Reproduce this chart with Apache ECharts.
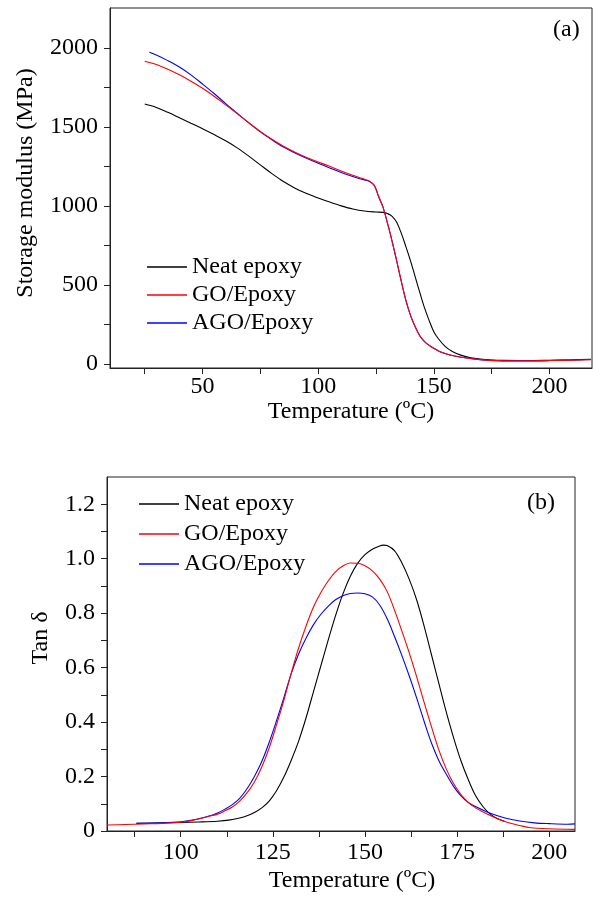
<!DOCTYPE html>
<html>
<head>
<meta charset="utf-8">
<script src="https://cdn.jsdelivr.net/npm/echarts@6/dist/echarts.min.js"></script>
<style>html,body{margin:0;padding:0;background:#fff;}#c{width:593px;height:903px;}</style>
</head>
<body>
<div id="c"></div>
<script>
// ---- Panel (a): storage modulus ----
var seriesNames = ['Neat epoxy', 'GO/Epoxy', 'AGO/Epoxy'];
var aNeatT = [25,30,35,40,45,50,55,60,65,70,75,80,85,90,95,100,105,110,115,120,125,128,130,132,134,136,138,140,142,144,146,148,150,152,155,158,162,166,170,175,180,190,200,210,218];
var aNeatV = [1645,1624,1593,1559,1524,1489,1452,1413,1368,1316,1260,1205,1155,1113,1079,1051,1025,1001,981,968,962,960,952,935,895,825,740,650,550,450,355,275,205,160,110,80,55,40,32,26,23,22,24,27,30];
var aGoT = [25,30,35,40,45,50,55,60,65,70,75,80,85,90,95,100,105,110,115,118,120,122,124,125,126,128,130,131,132,134,136,138,140,142,144,146,148,150,153,157,162,168,174,180,190,200,210,218];
var aGoV = [1916,1895,1865,1830,1790,1745,1695,1640,1585,1527,1472,1422,1378,1340,1307,1279,1251,1222,1194,1179,1170,1158,1135,1108,1065,995,890,835,775,650,520,400,305,235,178,142,118,100,76,57,43,31,23,20,20,22,25,27];
var aAgoT = [27,30,35,40,45,50,55,60,65,70,75,80,85,90,95,100,105,110,115,118,120,122,124,125,126,128,130,131,132,134,136,138,140,142,144,146,148,150,153,157,162,168,174,180,190,200,210,218];
var aAgoV = [1973,1955,1920,1880,1830,1772,1712,1648,1587,1526,1469,1419,1373,1336,1302,1271,1241,1212,1187,1173,1165,1156,1135,1108,1065,995,890,835,775,650,520,400,305,235,178,142,118,100,76,57,43,31,23,20,20,22,26,29];
var aXTicks = [25,50,75,100,125,150,175,200];
var aXLabels = [50,100,150,200];
var aYTicks = [0,250,500,750,1000,1250,1500,1750,2000];
var aYLabels = [0,500,1000,1500,2000];

// ---- Panel (b): tan delta ----
var bNeatT = [88,95,100,105,110,113,116,118,120,122,124,126,128,130,132,134,136,138,140,142,144,146,148,150,152,154,155,156,158,160,162,164,166,168,170,172,174,176,178,180,182,184,186,188];
var bNeatV = [0.028,0.030,0.031,0.033,0.036,0.040,0.048,0.056,0.068,0.085,0.110,0.148,0.198,0.260,0.330,0.415,0.510,0.605,0.700,0.790,0.870,0.935,0.983,1.015,1.035,1.047,1.050,1.048,1.030,0.985,0.925,0.850,0.755,0.650,0.545,0.440,0.345,0.260,0.190,0.130,0.090,0.062,0.045,0.035];
var bGoT = [80,85,90,95,100,103,106,108,110,112,114,116,118,120,122,124,126,128,130,132,134,136,138,140,142,144,146,148,150,152,154,156,158,160,162,164,166,168,170,172,174,176,178,180,183,186,189,192,195,200,207];
var bGoV = [0.022,0.024,0.026,0.028,0.032,0.038,0.048,0.055,0.062,0.074,0.088,0.110,0.140,0.180,0.235,0.305,0.390,0.480,0.580,0.672,0.752,0.822,0.875,0.918,0.952,0.973,0.984,0.983,0.974,0.955,0.925,0.880,0.812,0.735,0.655,0.568,0.475,0.385,0.300,0.230,0.175,0.135,0.105,0.085,0.063,0.045,0.030,0.020,0.012,0.008,0.006];
var bAgoT = [88,95,100,104,107,110,112,114,116,118,120,122,124,126,128,130,132,134,136,138,140,142,144,146,148,150,152,154,156,158,160,162,164,166,168,170,172,174,176,178,180,184,188,192,196,200,205,207];
var bAgoV = [0.028,0.030,0.034,0.042,0.052,0.066,0.080,0.097,0.120,0.155,0.200,0.255,0.325,0.405,0.490,0.578,0.650,0.708,0.757,0.795,0.825,0.849,0.864,0.872,0.874,0.871,0.860,0.830,0.780,0.715,0.645,0.570,0.490,0.405,0.325,0.260,0.210,0.165,0.130,0.105,0.090,0.065,0.048,0.037,0.030,0.027,0.025,0.026];
var bXTicks = [87.5,100,112.5,125,137.5,150,162.5,175,187.5,200];
var bXLabels = [100,125,150,175,200];
var bYTicks = [0,0.1,0.2,0.3,0.4,0.5,0.6,0.7,0.8,0.9,1.0,1.1,1.2];
var bYLabels = [0,0.2,0.4,0.6,0.8,1.0,1.2];

var colors = ['#000000', '#ff0000', '#0000ff'];

function zip(t, v) { return t.map(function (x, i) { return [x, v[i]]; }); }

var FONT = 'Liberation Serif';
var axisLineStyle = { color: '#222', width: 1 };

function xAxis(gi, min, max, ticks, labels, margin, nameGap, namePad) {
  return {
    type: 'value', gridIndex: gi, min: min, max: max,
    name: 'Temperature (ºC)', nameLocation: 'middle', nameGap: nameGap,
    nameTextStyle: { fontFamily: FONT, fontSize: 24, color: '#000', padding: namePad },
    axisLine: { show: true, onZero: false, lineStyle: axisLineStyle },
    axisTick: { show: true, inside: false, length: 6, lineStyle: axisLineStyle, customValues: ticks },
    axisLabel: { show: true, margin: margin, fontFamily: FONT, fontSize: 24, color: '#000', customValues: labels },
    splitLine: { show: false }
  };
}
function yAxis(gi, min, max, ticks, labels, name, nameGap, namePad, fmt) {
  return {
    type: 'value', gridIndex: gi, min: min, max: max,
    name: name, nameLocation: 'middle', nameGap: nameGap, nameRotate: 90,
    nameTextStyle: { fontFamily: FONT, fontSize: 24, color: '#000', padding: namePad },
    axisLine: { show: true, onZero: false, lineStyle: axisLineStyle },
    axisTick: { show: true, inside: false, length: 6, lineStyle: axisLineStyle, customValues: ticks },
    axisLabel: { show: true, margin: 12, fontFamily: FONT, fontSize: 24, color: '#000', customValues: labels, formatter: fmt },
    splitLine: { show: false }
  };
}

function line(name, data, xi, yi, color, z) {
  return {
    type: 'line', name: name, xAxisIndex: xi, yAxisIndex: yi, data: data,
    showSymbol: false, symbol: 'none', smooth: 0.35,
    lineStyle: { color: color, width: 1.1 }, itemStyle: { color: color }, z: z,
    animation: false
  };
}

var legendBase = {
  orient: 'vertical', icon: 'rect', itemWidth: 40, itemHeight: 1.5,
  textStyle: { fontFamily: FONT, fontSize: 24, color: '#000', lineHeight: 28, padding: [0, 0, 0, 0] },
  selectedMode: false
};

var option = {
  animation: false,
  backgroundColor: '#fff',
  grid: [
    { left: 110, top: 8, right: 1, height: 360, show: true, borderColor: '#222', borderWidth: 1 },
    { left: 107, top: 477, right: 18, height: 354, show: true, borderColor: '#222', borderWidth: 1 }
  ],
  xAxis: [
    xAxis(0, 10, 218.4, aXTicks, aXLabels, 7, 31, [0, 0, 0, 0]),
    xAxis(1, 80, 207, bXTicks, bXLabels, 10, 38, [0, 0, 0, 22])
  ],
  yAxis: [
    yAxis(0, -25, 2253, aYTicks, aYLabels, 'Storage modulus (MPa)', 72, [0, 0, 0, 10], function (v) { return String(v); }),
    yAxis(1, 0, 1.3, bYTicks, bYLabels, 'Tan δ', 54, [0, 0, 0, 32], function (v) { return v === 0 ? '0' : v.toFixed(1); })
  ],
  legend: [
    Object.assign({}, legendBase, { left: 142, top: 248, itemGap: 0, data: seriesNames.map(function (n) { return { name: n }; }) }),
    Object.assign({}, legendBase, { left: 134, top: 485, itemGap: 2, data: seriesNames.map(function (n) { return { name: n }; }) })
  ],
  graphic: [
    { type: 'text', left: 553, top: 18, style: { text: '(a)', font: '24px "Liberation Serif"', fill: '#000' } },
    { type: 'text', left: 527, top: 491, style: { text: '(b)', font: '24px "Liberation Serif"', fill: '#000' } }
  ],
  series: [
    line(seriesNames[0], zip(aNeatT, aNeatV), 0, 0, colors[0], 2),
    line(seriesNames[2], zip(aAgoT, aAgoV), 0, 0, colors[2], 3),
    line(seriesNames[1], zip(aGoT, aGoV), 0, 0, colors[1], 4),
    line(seriesNames[0], zip(bNeatT, bNeatV), 1, 1, colors[0], 2),
    line(seriesNames[2], zip(bAgoT, bAgoV), 1, 1, colors[2], 3),
    line(seriesNames[1], zip(bGoT, bGoV), 1, 1, colors[1], 4)
  ]
};

var chart = echarts.init(document.getElementById('c'), null, { renderer: 'canvas' });
chart.setOption(option);
</script>
</body>
</html>
